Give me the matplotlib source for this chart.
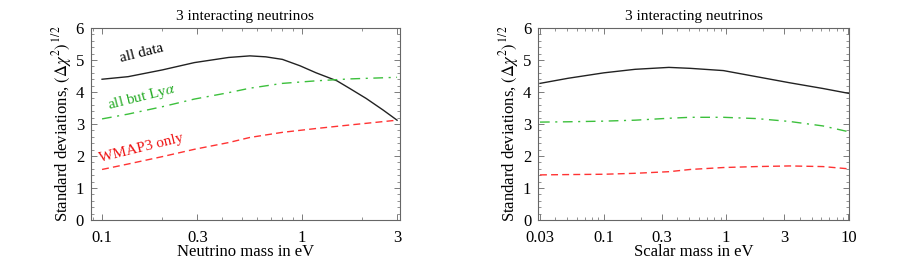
import numpy as np
import matplotlib
matplotlib.use('Agg')
import matplotlib.pyplot as plt
from matplotlib.ticker import FixedLocator, LogLocator, MultipleLocator, NullFormatter

plt.rcParams['font.family'] = ['Liberation Serif', 'DejaVu Serif']
plt.rcParams['mathtext.fontset'] = 'stix'

# left panel: neutrino mass (eV)
m_nu_all = [0.1, 0.135, 0.2, 0.29, 0.43, 0.55, 0.66, 0.8, 0.98, 1.18, 1.5, 1.74, 2.1, 2.55, 3.0]
all_data = [4.40, 4.48, 4.69, 4.92, 5.08, 5.13, 5.10, 5.02, 4.82, 4.60, 4.35, 4.11, 3.80, 3.44, 3.12]
m_nu_lya = [0.1, 0.135, 0.2, 0.29, 0.43, 0.55, 0.8, 1.18, 1.74, 3.0]
no_lya = [3.16, 3.31, 3.54, 3.78, 3.98, 4.12, 4.27, 4.35, 4.41, 4.46]
m_nu_w = [0.1, 0.135, 0.2, 0.29, 0.43, 0.55, 0.8, 1.18, 1.74, 3.0]
wmap3 = [1.58, 1.75, 1.98, 2.21, 2.42, 2.58, 2.74, 2.86, 2.97, 3.12]

# right panel: scalar mass (eV)
m_s = [0.03, 0.051, 0.1, 0.18, 0.34, 0.51, 0.95, 1.77, 3.3, 6.2, 10.0]
s_all = [4.27, 4.43, 4.60, 4.71, 4.77, 4.74, 4.67, 4.48, 4.29, 4.11, 3.96]
s_lya = [3.06, 3.07, 3.09, 3.12, 3.18, 3.21, 3.21, 3.17, 3.08, 2.94, 2.76]
s_wmap = [1.41, 1.42, 1.43, 1.46, 1.51, 1.58, 1.64, 1.67, 1.69, 1.67, 1.60]

ticks_left = [0.1, 0.3, 1, 3]
ticks_right = [0.03, 0.1, 0.3, 1, 3, 10]

c_black = '#222222'
c_green = '#3cc03c'
c_red = '#ff3333'

fig = plt.figure(figsize=(9.06, 2.67), dpi=100)
ax1 = fig.add_axes([0.1004, 0.176, 0.341, 0.719])
ax2 = fig.add_axes([0.594, 0.176, 0.343, 0.719])

ax1.plot(m_nu_all, all_data, color=c_black, lw=1.0)
ax1.plot(m_nu_lya, no_lya, color=c_green, lw=1.0, dashes=(7, 4, 1.5, 4))
ax1.plot(m_nu_w, wmap3, color=c_red, lw=1.0, dashes=(5, 3))

ax1.text(0.158, 5.22, 'all data', color='black', fontsize=11,
         rotation=14, ha='center', va='center')
ax1.text(0.158, 3.85, r'all but Ly$\alpha$', color='#22aa22', fontsize=11,
         rotation=14, ha='center', va='center')
ax1.text(0.157, 2.25, 'WMAP3 only', color='#ee1111', fontsize=11,
         rotation=14, ha='center', va='center')

ax2.plot(m_s, s_all, color=c_black, lw=1.0)
ax2.plot(m_s, s_lya, color=c_green, lw=1.0, dashes=(7, 4, 1.5, 4))
ax2.plot(m_s, s_wmap, color=c_red, lw=1.0, dashes=(5, 3))

for ax, xl, ticks, xlab in [(ax1, (0.088, 3.1), ticks_left, 'Neutrino mass in eV'),
                            (ax2, (0.029, 10.1), ticks_right, 'Scalar mass in eV')]:
    ax.set_xscale('log')
    ax.set_xlim(*xl)
    ax.set_ylim(0, 6)
    ax.xaxis.set_major_locator(FixedLocator(ticks))
    ax.set_xticklabels([str(t) for t in ticks])
    ax.xaxis.set_minor_locator(LogLocator(base=10, subs=[2, 4, 5, 6, 7, 8, 9]))
    ax.xaxis.set_minor_formatter(NullFormatter())
    ax.yaxis.set_major_locator(MultipleLocator(1))
    ax.yaxis.set_minor_locator(MultipleLocator(0.2))
    ax.tick_params(which='both', direction='in', top=True, right=True,
                   color='#666666', labelsize=12)
    ax.tick_params(axis='x', which='major', pad=7)
    ax.tick_params(axis='y', which='major', pad=5)
    ax.tick_params(which='major', length=4, width=0.6)
    ax.tick_params(which='minor', length=2, width=0.5)
    for s in ax.spines.values():
        s.set_color('#666666')
        s.set_linewidth(0.8)
    ax.set_title('3 interacting neutrinos', fontsize=11)
    ax.set_xlabel(xlab, fontsize=12, labelpad=-1)
    ax.set_ylabel(r'Standard deviations, $(\Delta\chi^2)^{\,1/2}$', fontsize=12, labelpad=1)

fig.savefig('out.png', dpi=100)
